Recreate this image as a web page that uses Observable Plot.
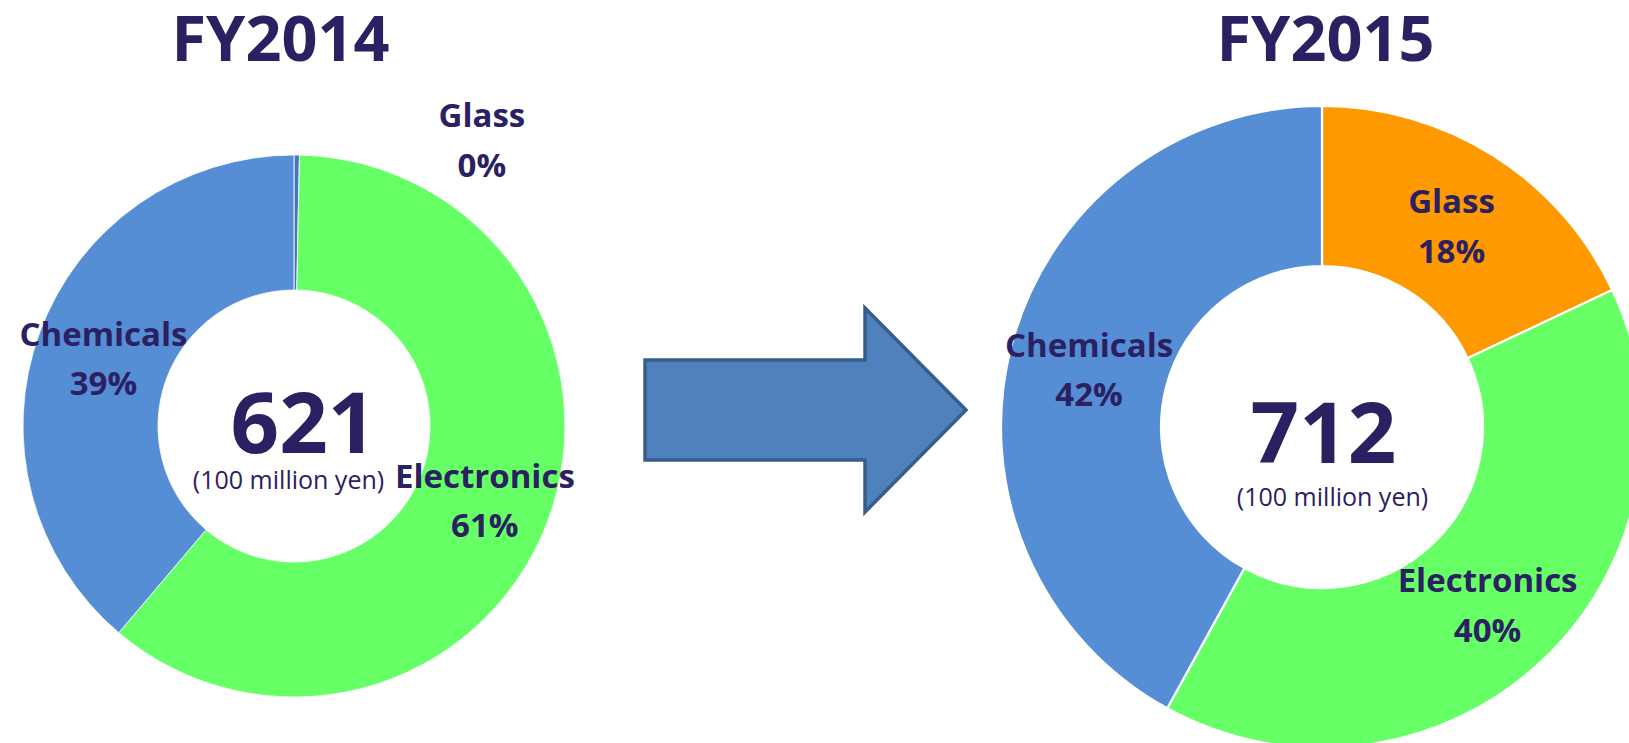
<!DOCTYPE html>
<html>
<head>
<meta charset="utf-8">
<script src="https://cdn.jsdelivr.net/npm/d3@7"></script>
<script src="https://cdn.jsdelivr.net/npm/@observablehq/plot@0.6"></script>
<style>
  html, body { margin: 0; padding: 0; background: #ffffff; }
  #chart svg { display: block; overflow: visible; }
</style>
</head>
<body>
<div id="chart"></div>
<script>
// Net sales by business segment (unit: 100 million yen)
const segments = ["Glass", "Electronics", "Chemicals"];
const fiscalYears = ["FY2014", "FY2015"];
const sales2014 = [2, 378, 241];
const sales2015 = [128, 285, 299];
const unitLabel = "(100 million yen)";

// Slice colours, in segment order, for each year
const sliceColors2014 = ["#4677bd", "#66ff66", "#558ed5"];
const sliceColors2015 = ["#ff9900", "#66ff66", "#558ed5"];

const textColor = "#2b2062";
const fontFamily = "'Open Sans', 'DejaVu Sans', sans-serif";

// Page geometry (pixel units, y pointing down)
const W = 1629, H = 743;
const panels = [
  {cx: 294, cy: 426, outer: 271, inner: 136, titleX: 280, titleY: 60,
   totalDx: 9, totalDy: 26, unitDx: -6, unitDy: 62, sep: 0.8},
  {cx: 1322, cy: 427, outer: 321, inner: 161, titleX: 1325, titleY: 60,
   totalDx: 1, totalDy: 35, unitDx: 10, unitDy: 78, sep: 2.2}
];
// Where the label of a slice that rounds to 0% is moved to (outside the ring)
const tinyLabel = {angle: 33 * Math.PI / 180, radius: 344};
const labelLineHeight = 1.5;
const labelDy = -2;

const arrow = {x0: 645, shaftTop: 360, shaftBottom: 460, headX: 865, headTop: 308, headBottom: 512, tipX: 966};

const series = [sales2014, sales2015];
const palettes = [sliceColors2014, sliceColors2015];

const pie = d3.pie().sort(null).value(d => d).startAngle(0).endAngle(2 * Math.PI);

// Build per-panel slice arcs and label rows from the data
const charts = panels.map((p, i) => {
  const values = series[i];
  const total = d3.sum(values);
  const arcs = pie(values).map((a, j) => ({...a, segment: segments[j], color: palettes[i][j]}));
  const arcGen = d3.arc().innerRadius(p.inner).outerRadius(p.outer);
  const labels = arcs.map(a => {
    const pct = Math.round(a.value / total * 100);
    let [dx, dy] = arcGen.centroid(a);
    if (pct === 0) {
      dx = Math.sin(tinyLabel.angle) * tinyLabel.radius;
      dy = -Math.cos(tinyLabel.angle) * tinyLabel.radius;
    }
    return {x: p.cx + dx, y: p.cy + dy, text: `${a.segment}\n${pct}%`};
  });
  return {panel: p, year: fiscalYears[i], total, arcs, labels};
});

// Donut ring drawn with d3.arc, positioned through Plot's x/y scales
function donut(chart) {
  return (index, {x, y}) => {
    const p = chart.panel;
    const k = x(p.cx + 1) - x(p.cx);
    const arcGen = d3.arc().innerRadius(p.inner * k).outerRadius(p.outer * k);
    const g = d3.create("svg:g").attr("transform", `translate(${x(p.cx)},${y(p.cy)})`);
    g.selectAll("path")
      .data(chart.arcs)
      .join("path")
      .attr("d", arcGen)
      .attr("fill", d => d.color)
      .attr("stroke", "#ffffff")
      .attr("stroke-width", p.sep)
      .attr("stroke-linejoin", "round");
    return g.node();
  };
}

// Block arrow between the two years
function blockArrow(index, {x, y}) {
  const a = arrow;
  const mid = (a.headTop + a.headBottom) / 2;
  const pts = [
    [a.x0, a.shaftTop], [a.headX, a.shaftTop], [a.headX, a.headTop], [a.tipX, mid],
    [a.headX, a.headBottom], [a.headX, a.shaftBottom], [a.x0, a.shaftBottom]
  ].map(([px, py]) => [x(px), y(py)]);
  return d3.create("svg:polygon")
    .attr("points", pts.map(d => d.join(",")).join(" "))
    .attr("fill", "#4f81bd")
    .attr("stroke", "#385d8a")
    .attr("stroke-width", 3.5)
    .attr("stroke-linejoin", "miter")
    .node();
}

const titleRows = charts.map(c => ({x: c.panel.titleX, y: c.panel.titleY, text: c.year}));
const totalRows = charts.map(c => ({x: c.panel.cx + c.panel.totalDx, y: c.panel.cy + c.panel.totalDy, text: String(c.total)}));
const unitRows = charts.map(c => ({x: c.panel.cx + c.panel.unitDx, y: c.panel.cy + c.panel.unitDy, text: unitLabel}));
const labelRows = charts.flatMap(c => c.labels);

const plot = Plot.plot({
  width: W,
  height: H,
  margin: 0,
  style: {background: "#ffffff", fontFamily},
  x: {domain: [0, W], range: [0, W], axis: null},
  y: {domain: [0, H], range: [0, H], axis: null},
  marks: [
    donut(charts[0]),
    donut(charts[1]),
    blockArrow,
    Plot.text(titleRows, {x: "x", y: "y", text: "text", lineAnchor: "bottom",
      fontSize: 63, fontWeight: 700, fill: textColor, fontFamily}),
    Plot.text(totalRows, {x: "x", y: "y", text: "text", lineAnchor: "bottom",
      fontSize: 85, fontWeight: 700, fill: textColor, fontFamily}),
    Plot.text(unitRows, {x: "x", y: "y", text: "text", lineAnchor: "bottom",
      fontSize: 25, fontWeight: 400, fill: textColor, fontFamily}),
    Plot.text(labelRows, {x: "x", y: "y", text: "text", lineAnchor: "middle", dy: labelDy,
      lineHeight: labelLineHeight, fontSize: 33, fontWeight: 700, fill: textColor, fontFamily})
  ]
});

document.getElementById("chart").append(plot);
</script>
</body>
</html>
